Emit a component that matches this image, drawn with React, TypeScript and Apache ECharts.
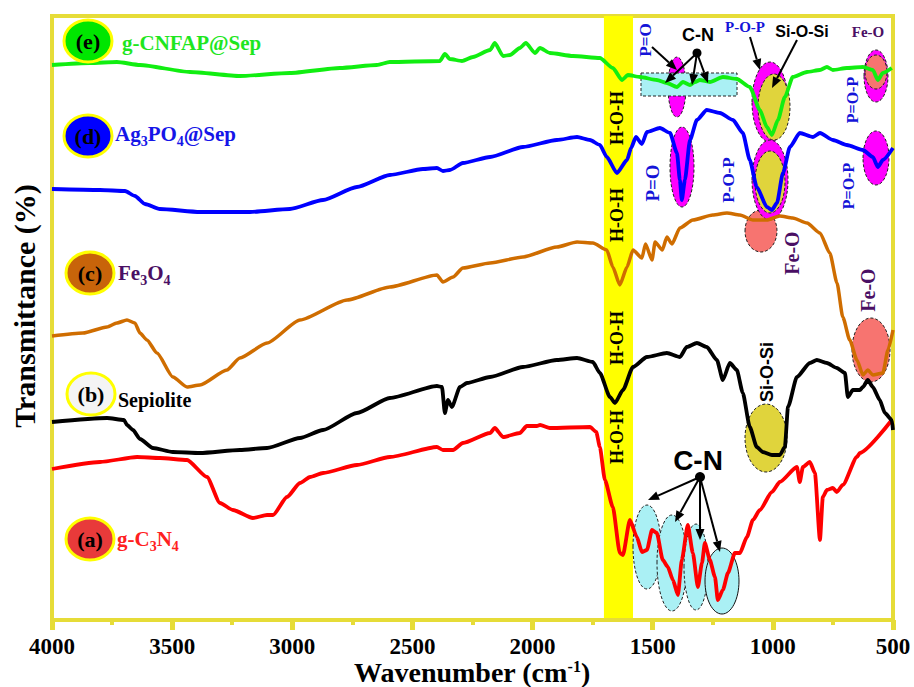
import React, { useEffect, useRef } from 'react';
import * as echarts from 'echarts';

const SERIF = "'Liberation Serif','Times New Roman',serif";
const SANS = "'Liberation Sans',Arial,sans-serif";
const FRAME = '#e6dc38';

// [wavenumber (cm-1), transmittance (a.u., offset stack)]
const gC3N4: number[][] = [
  [4000, 15.1], [3800, 15.8], [3646, 16.3], [3551, 16.2], [3438, 16.0], [3355, 14.3], [3301, 11.7], [3247, 11.0],
  [3164, 10.2], [3105, 10.5], [3080, 10.5], [3022, 12.3], [2968, 13.7], [2926, 14.3], [2872, 14.7], [2731, 15.5],
  [2594, 16.3], [2398, 17.3], [2373, 17.0], [2331, 17.0], [2290, 17.7], [2177, 18.7], [2157, 19.2], [2123, 18.3],
  [2053, 18.7], [2024, 19.4], [1982, 19.4], [1969, 19.5], [1928, 19.2], [1761, 19.3], [1735, 18.8], [1720, 17.3],
  [1699, 14.0], [1666, 11.3], [1637, 6.7], [1624, 6.5], [1595, 10.0], [1566, 8.3], [1545, 6.8], [1524, 7.0],
  [1503, 9.0], [1483, 8.7], [1458, 6.0], [1437, 5.3], [1416, 4.0], [1395, 2.5], [1379, 6.0], [1354, 9.5],
  [1333, 6.7], [1312, 3.3], [1295, 5.7], [1283, 7.7], [1262, 6.0], [1241, 4.3], [1229, 2.0], [1208, 3.0],
  [1187, 4.7], [1158, 6.7], [1137, 6.7], [1108, 8.3], [1083, 10.0], [1054, 11.0], [1004, 12.8], [971, 13.8],
  [900, 15.3], [888, 13.8], [875, 15.3], [846, 15.8], [825, 14.7], [804, 8.0], [792, 12.3], [775, 13.0],
  [750, 13.2], [734, 12.8], [709, 13.5], [650, 16.3], [638, 16.7], [505, 20.0],
];

const sepiolite: number[][] = [
  [4000, 19.8], [3771, 20.2], [3700, 20.0], [3688, 19.5], [3663, 19.0], [3634, 18.1], [3580, 17.2], [3497, 16.8],
  [3384, 16.7], [3218, 17.0], [3105, 17.2], [2968, 18.2], [2872, 19.0], [2731, 20.7], [2594, 22.2], [2398, 23.4],
  [2377, 23.3], [2365, 20.7], [2352, 22.0], [2336, 21.3], [2302, 23.3], [2273, 23.7], [2177, 24.3], [2040, 25.3],
  [1899, 26.0], [1815, 26.2], [1749, 25.8], [1720, 24.7], [1678, 22.3], [1657, 21.7], [1624, 23.0], [1582, 25.3],
  [1524, 26.3], [1441, 26.7], [1387, 26.3], [1358, 27.3], [1316, 27.7], [1275, 27.3], [1233, 26.0], [1208, 24.0],
  [1179, 25.7], [1150, 25.0], [1125, 22.7], [1096, 19.3], [1067, 17.3], [1042, 16.8], [1004, 16.5], [971, 16.5],
  [950, 17.3], [937, 21.3], [900, 24.3], [846, 25.7], [817, 26.0], [775, 25.7], [734, 25.2], [700, 24.7],
  [688, 22.3], [667, 23.0], [638, 23.0], [625, 23.3], [605, 24.0], [584, 23.3], [555, 22.0], [534, 20.7],
  [505, 20.0], [500, 19.0],
];

const fe3o4: number[][] = [
  [4000, 28.4], [3871, 28.7], [3771, 29.3], [3730, 29.7], [3688, 30.0], [3655, 29.7], [3634, 28.7], [3605, 28.0],
  [3563, 26.7], [3497, 24.3], [3438, 23.3], [3384, 23.5], [3272, 25.0], [3218, 26.2], [3105, 27.7], [2968, 30.0],
  [2772, 32.0], [2594, 33.3], [2398, 34.5], [2373, 33.8], [2331, 34.3], [2290, 35.2], [2177, 35.7], [2040, 36.3],
  [1899, 37.3], [1815, 37.8], [1749, 37.7], [1691, 37.0], [1666, 35.3], [1637, 33.5], [1607, 35.3], [1582, 37.0],
  [1545, 36.2], [1530, 37.6], [1503, 36.0], [1490, 37.8], [1460, 37.0], [1441, 38.3], [1420, 37.6], [1387, 39.2],
  [1333, 40.0], [1250, 40.5], [1191, 40.7], [1137, 40.5], [1083, 40.0], [1025, 40.0], [971, 40.4], [917, 40.2],
  [858, 39.7], [804, 38.7], [763, 36.7], [733, 33.7], [709, 30.3], [680, 28.0], [650, 26.0], [625, 24.5],
  [605, 25.0], [584, 24.5], [542, 24.7], [521, 27.0], [500, 29.0],
];

const ag3po4Sep: number[][] = [
  [4000, 43.1], [3800, 43.0], [3696, 42.9], [3655, 42.4], [3613, 41.6], [3551, 41.1], [3384, 40.8], [3176, 40.8],
  [3010, 41.1], [2872, 42.0], [2731, 43.3], [2594, 44.5], [2456, 45.1], [2398, 45.2], [2373, 44.9], [2344, 45.0],
  [2290, 45.7], [2177, 46.3], [2040, 47.3], [1899, 48.0], [1815, 48.3], [1761, 48.0], [1720, 47.5], [1691, 46.3],
  [1649, 44.7], [1607, 46.0], [1590, 47.2], [1570, 48.3], [1545, 47.6], [1524, 48.8], [1470, 49.2], [1428, 48.7],
  [1399, 46.7], [1387, 44.0], [1379, 42.0], [1366, 44.0], [1345, 48.0], [1316, 50.0], [1275, 51.0], [1220, 50.7],
  [1166, 50.0], [1125, 48.7], [1096, 46.0], [1067, 43.3], [1025, 41.3], [1004, 41.0], [983, 41.7], [958, 44.7],
  [929, 47.3], [888, 48.7], [833, 48.3], [804, 48.7], [750, 48.0], [692, 47.5], [625, 47.0], [584, 46.3],
  [563, 45.3], [542, 46.0], [500, 47.2],
];

const gCNFAPSep: number[][] = [
  [4000, 55.5], [3842, 55.7], [3730, 55.8], [3634, 55.5], [3426, 54.8], [3218, 54.4], [3010, 54.7], [2802, 55.2],
  [2648, 55.5], [2594, 55.8], [2386, 55.9], [2365, 56.6], [2344, 56.1], [2294, 55.9], [2248, 56.3], [2177, 57.0],
  [2157, 57.7], [2123, 56.4], [2094, 56.5], [2053, 57.2], [2028, 57.7], [1990, 56.7], [1969, 57.2], [1928, 56.7],
  [1832, 56.4], [1720, 56.2], [1666, 55.2], [1628, 54.0], [1603, 54.5], [1553, 54.3], [1483, 54.0], [1441, 53.7],
  [1399, 53.3], [1374, 53.8], [1345, 53.5], [1324, 53.8], [1304, 54.0], [1262, 53.8], [1208, 54.3], [1150, 54.1],
  [1096, 53.3], [1054, 51.0], [1025, 49.3], [1004, 48.5], [979, 50.0], [950, 52.3], [917, 54.3], [858, 54.8],
  [804, 55.0], [775, 55.3], [750, 55.0], [692, 55.2], [625, 55.3], [584, 55.0], [563, 54.0], [542, 54.7],
  [505, 55.2],
];

const waterBand = [1703, 1582];

function txt(x: number, y: number, text: string, o: any = {}) {
  return {
    type: 'text', x, y, rotation: o.rot ? Math.PI / 2 : 0, z: 10, z2: 5, silent: true,
    style: {
      text, fill: o.color || '#000', fontSize: o.size || 18, fontWeight: 'bold',
      fontFamily: o.family || SERIF, align: o.align || 'center', verticalAlign: 'middle',
      rich: o.rich,
    },
  };
}

function ell(cx: number, cy: number, rx: number, ry: number, fill: string, z2: number, dashed = true, stroke = '#222') {
  return {
    type: 'ellipse', shape: { cx, cy, rx, ry }, z: 1, z2, silent: true,
    style: { fill, stroke, lineWidth: 1, lineDash: dashed ? [3, 2] : null },
  };
}

function arrow(x1: number, y1: number, x2: number, y2: number) {
  const a = Math.atan2(y2 - y1, x2 - x1);
  const L = 11, W = 4.5;
  const bx = x2 - L * Math.cos(a), by = y2 - L * Math.sin(a);
  return [
    { type: 'line', z: 10, silent: true, shape: { x1, y1, x2: bx, y2: by }, style: { stroke: '#000', lineWidth: 2 } },
    {
      type: 'polygon', z: 10, silent: true,
      shape: { points: [[x2, y2], [bx + W * Math.sin(a), by - W * Math.cos(a)], [bx - W * Math.sin(a), by + W * Math.cos(a)]] },
      style: { fill: '#000' },
    },
  ];
}

function badge(cx: number, cy: number, letter: string, fill: string) {
  return [
    { type: 'ellipse', z: 10, silent: true, shape: { cx, cy, rx: 24, ry: 21 }, style: { fill, stroke: '#ffff00', lineWidth: 3 } },
    { ...txt(cx, cy, letter, { size: 22 }), z2: 6 },
  ];
}

function subRich(color: string, size = 21) {
  return {
    n: { fontSize: size, fontWeight: 'bold', fontFamily: SERIF, fill: color, lineHeight: size, padding: [0, 0, 4, 0], verticalAlign: 'bottom' },
    s: { fontSize: 14, fontWeight: 'bold', fontFamily: SERIF, fill: color, lineHeight: 14, verticalAlign: 'bottom' },
  };
}

const MAG = '#ff00ff', OLIVE = '#e0d43c', SALMON = '#f77470', CYAN = '#aaf0f4';
const BLUE_T = '#1414d8', PURPLE = '#4a0f64';

const graphics: any[] = [
  // sample badges and names
  ...badge(88, 41, '(e)', '#00e600'),
  txt(122, 43, 'g-CNFAP@Sep', { size: 21, color: '#1ee61e', align: 'left' }),
  ...badge(88, 136, '(d)', '#0000ff'),
  txt(115, 138, '{n|Ag}{s|3}{n|PO}{s|4}{n|@Sep}', { align: 'left', rich: subRich('#1515e8') }),
  ...badge(90, 273, '(c)', '#c8640a'),
  txt(118, 277, '{n|Fe}{s|3}{n|O}{s|4}', { align: 'left', rich: subRich(PURPLE) }),
  ...badge(91, 394, '(b)', '#f4f4f4'),
  txt(118, 400, 'Sepiolite', { size: 20, align: 'left' }),
  ...badge(90, 539, '(a)', '#e83a3a'),
  txt(117, 543, '{n|g-C}{s|3}{n|N}{s|4}', { align: 'left', rich: subRich('#ff2020') }),

  // H-O-H labels in water band
  txt(617, 118, 'H-O-H', { rot: true, size: 18 }),
  txt(617, 215, 'H-O-H', { rot: true, size: 18 }),
  txt(617, 338, 'H-O-H', { rot: true, size: 18 }),
  txt(617, 437, 'H-O-H', { rot: true, size: 18 }),

  // (e) annotations
  ell(677, 87, 9, 30, MAG, 1),
  { type: 'rect', z: 1, z2: 2, silent: true, shape: { x: 641, y: 73, width: 96, height: 23 }, style: { fill: CYAN, stroke: '#222', lineWidth: 1, lineDash: [3, 2] } },
  txt(645, 40, 'P=O', { rot: true, size: 17, color: BLUE_T }),
  txt(698, 35, 'C-N', { size: 18, family: SANS }),
  { type: 'circle', z: 10, silent: true, shape: { cx: 697, cy: 53, r: 4.5 }, style: { fill: '#000' } },
  ...arrow(697, 53, 665, 83), ...arrow(697, 53, 692, 85), ...arrow(697, 53, 708, 83),
  ...arrow(652, 47, 677, 70),
  txt(745, 27, 'P-O-P', { size: 15, color: BLUE_T }),
  txt(802, 31, 'Si-O-Si', { size: 16, family: SANS }),
  txt(868, 32, 'Fe-O', { size: 15, color: PURPLE }),
  ...arrow(750, 37, 760, 70), ...arrow(797, 40, 772, 88),
  ell(761, 231, 16, 21, SALMON, 1),
  ell(770, 102, 18, 40, MAG, 2), ell(774, 107, 16, 33, OLIVE, 3),
  ell(770, 180, 18, 40, MAG, 2), ell(770, 182, 15, 31, OLIVE, 3),
  ell(876, 76, 12, 26, MAG, 2), ell(876, 72, 11, 17, SALMON, 3),
  txt(852, 100, 'P=O-P', { rot: true, size: 16, color: BLUE_T }),

  // (d) annotations
  ell(876, 158, 13, 27, MAG, 2),
  txt(848, 186, 'P=O-P', { rot: true, size: 16, color: BLUE_T }),
  ell(682, 167, 12, 40, MAG, 2),
  txt(652, 183, 'P=O', { rot: true, size: 19, color: BLUE_T }),
  txt(728, 180, 'P-O-P', { rot: true, size: 17, color: BLUE_T }),

  // (c) annotations
  txt(792, 253, 'Fe-O', { rot: true, size: 20, color: PURPLE }),
  ell(871, 350, 19, 32, SALMON, 2),
  txt(868, 290, 'Fe-O', { rot: true, size: 20, color: PURPLE }),

  // (b) annotations
  ell(766, 438, 21, 34, OLIVE, 2),
  txt(767, 372, 'Si-O-Si', { rot: true, size: 18, family: SANS }),

  // (a) annotations
  ell(647, 547, 14, 42, CYAN, 2), ell(672, 563, 15, 48, CYAN, 3), ell(696, 567, 12, 43, CYAN, 4),
  ell(722, 581, 17, 33, CYAN, 5, false, '#111'),
  txt(698, 460, 'C-N', { size: 28, family: SANS }),
  { type: 'circle', z: 10, silent: true, shape: { cx: 700, cy: 477, r: 5 }, style: { fill: '#000' } },
  ...arrow(700, 477, 648, 500), ...arrow(700, 477, 675, 522), ...arrow(700, 477, 700, 540), ...arrow(700, 477, 720, 552),

  // axis titles
  { type: 'text', x: 24, y: 306, rotation: Math.PI / 2, z: 10, silent: true,
    style: { text: 'Transmittance (%)', fill: '#000', fontSize: 30, fontWeight: 'bold', fontFamily: SERIF, align: 'center', verticalAlign: 'middle' } },
  { type: 'text', x: 472, y: 673, z: 10, silent: true,
    style: {
      text: '{a|Wavenumber (cm}{s|-1}{a|)}', align: 'center', verticalAlign: 'middle',
      rich: {
        a: { fontSize: 28, fontWeight: 'bold', fontFamily: SERIF, fill: '#000', lineHeight: 26, verticalAlign: 'bottom' },
        s: { fontSize: 16, fontWeight: 'bold', fontFamily: SERIF, fill: '#000', lineHeight: 14, padding: [0, 0, 12, 0], verticalAlign: 'bottom' },
      },
    } },
];

function line(name: string, data: number[][], color: string, width = 3.8) {
  return {
    type: 'line', name, data, showSymbol: false, symbol: 'none', silent: true, z: 2,
    smooth: 0.2, smoothMonotone: 'x',
    lineStyle: { color, width, join: 'round' }, itemStyle: { color },
  };
}

const option: any = {
  animation: false,
  backgroundColor: '#fff',
  grid: {
    left: 52, right: 21, top: 16, bottom: 67, show: true, borderColor: FRAME, borderWidth: 4,
    backgroundColor: 'transparent', containLabel: false, outerBoundsMode: 'none',
  },
  xAxis: {
    type: 'value', min: 500, max: 4000, interval: 500, inverse: true,
    axisLine: { show: true, lineStyle: { color: FRAME, width: 4 } },
    axisTick: { show: true, inside: false, length: 10, lineStyle: { color: FRAME, width: 5 } },
    minorTick: { show: true, splitNumber: 2, length: 5, lineStyle: { color: FRAME, width: 4 } },
    axisLabel: { color: '#000', fontSize: 23, fontWeight: 'bold', fontFamily: SERIF, margin: 15, lineHeight: 22, formatter: (v: number) => String(v) },
    splitLine: { show: false },
  },
  yAxis: {
    type: 'value', min: 0, max: 60.4,
    axisLine: { show: true, lineStyle: { color: FRAME, width: 4 } },
    axisTick: { show: false }, axisLabel: { show: false }, splitLine: { show: false },
  },
  series: [
    {
      type: 'line', data: [], silent: true, z: 0,
      markArea: { silent: true, z: 0, itemStyle: { color: '#ffff00' }, data: [[{ xAxis: waterBand[0] }, { xAxis: waterBand[1] }]] },
    },
    line('g-C3N4', gC3N4, '#ff0000'),
    line('Sepiolite', sepiolite, '#000000'),
    line('Fe3O4', fe3o4, '#cf6d00', 3.5),
    line('Ag3PO4@Sep', ag3po4Sep, '#0000ff'),
    line('g-CNFAP@Sep', gCNFAPSep, '#11ee11'),
  ],
  graphic: graphics,
};

export default function App() {
  const ref = useRef<HTMLDivElement>(null);
  useEffect(() => {
    document.body.style.margin = '0';
    const chart = echarts.init(ref.current!, null, { renderer: 'svg' });
    chart.setOption(option);
    return () => chart.dispose();
  }, []);
  return <div ref={ref} style={{ width: 914, height: 687 }} />;
}
